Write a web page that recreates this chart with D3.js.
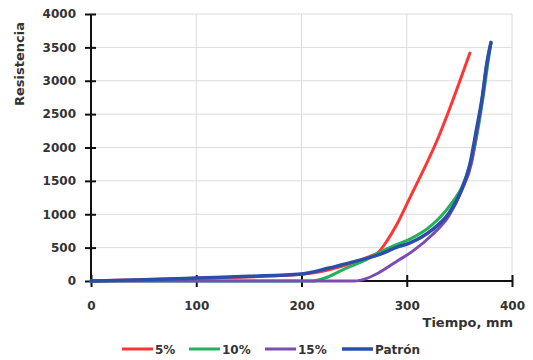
<!DOCTYPE html>
<html>
<head>
<meta charset="utf-8">
<script src="https://cdn.jsdelivr.net/npm/d3@7"></script>
<style>
  body { margin: 0; background: #fff; }
  text { font-family: "DejaVu Sans", sans-serif; font-weight: bold; fill: #333; }
</style>
</head>
<body>
<svg id="chart" width="533" height="360"></svg>
<script>
// valores (tiempo mm, resistencia)
var xTicks = [0, 100, 200, 300, 400];
var yTicks = [0, 500, 1000, 1500, 2000, 2500, 3000, 3500, 4000];
var seriesNames = ["5%", "10%", "15%", "Patrón"];
var seriesColors = ["#ff3535", "#26b05a", "#7b4cb3", "#2b4fa6"];

var rojo = [[0,0],[100,40],[200,100],[250,280],[265,370],[273,430],[282,620],[290,830],[302,1215],[330,2150],[360,3415]];
var verde = [[0,0],[210,0],[225,60],[242,190],[261,315],[273,420],[290,545],[302,620],[324,840],[340,1110],[355,1500],[363,1900],[368,2300],[373,2800],[377,3250],[380,3570]];
var morado = [[0,0],[250,0],[262,40],[273,120],[290,290],[305,440],[324,690],[340,975],[352,1350],[362,1800],[367,2280],[372,2780],[376,3250],[380,3560]];
var patron = [[0,0],[50,20],[100,45],[150,70],[200,105],[225,190],[250,290],[273,390],[292,515],[302,565],[324,765],[340,1015],[352,1365],[360,1750],[366,2250],[372,2780],[376,3250],[380,3575]];
var allSeries = [rojo, verde, morado, patron];

var svg = d3.select("#chart");
var x = d3.scaleLinear().domain([0, 400]).range([91, 512]);
var y = d3.scaleLinear().domain([0, 4000]).range([281, 14]);

// grid
svg.append("g").selectAll("line").data(yTicks.slice(1)).enter().append("line")
    .attr("x1", x(0)).attr("x2", x(400))
    .attr("y1", function(d){ return y(d); }).attr("y2", function(d){ return y(d); })
    .attr("stroke", "#dcdcdc").attr("stroke-width", 1);
svg.append("g").selectAll("line").data(xTicks.slice(1)).enter().append("line")
    .attr("x1", function(d){ return x(d); }).attr("x2", function(d){ return x(d); })
    .attr("y1", y(0)).attr("y2", y(4000))
    .attr("stroke", "#dcdcdc").attr("stroke-width", 1);

// axes
var yAxis = svg.append("g").attr("transform", "translate(" + x(0) + ",0)")
    .call(d3.axisLeft(y).tickValues(yTicks).tickFormat(d3.format("d")).tickSize(6).tickPadding(9));
yAxis.selectAll(".tick line").attr("x1", 5);
var xAxis = svg.append("g").attr("transform", "translate(0," + y(0) + ")")
    .call(d3.axisBottom(x).tickValues(xTicks).tickFormat(d3.format("d")).tickSize(6).tickPadding(14));
xAxis.selectAll(".tick line").attr("y1", -6);
svg.selectAll(".domain").attr("stroke-width", 2).attr("stroke", "#111");
svg.selectAll(".tick line").attr("stroke-width", 2).attr("stroke", "#111");
svg.selectAll(".tick text").style("font-size", "12px").attr("fill", "#333")
    .style("font-family", "DejaVu Sans").style("font-weight", "bold");
yAxis.select(".domain").attr("d", "M0," + y(0) + "V" + y(4000));
xAxis.select(".domain").attr("d", "M" + x(0) + ",0H" + x(400));

// lines
var line = d3.line()
    .x(function(d){ return x(d[0]); })
    .y(function(d){ return y(d[1]); })
    .curve(d3.curveMonotoneX);

svg.append("g").selectAll("path").data(allSeries).enter().append("path")
    .attr("d", line)
    .attr("fill", "none")
    .attr("stroke", function(d, i){ return seriesColors[i]; })
    .attr("stroke-width", function(d, i){ return i == 3 ? 3.5 : 3; })
    .attr("stroke-linecap", "round")
    .attr("stroke-linejoin", "round");

// axis titles
svg.append("text").attr("transform", "translate(24,64)rotate(-90)")
    .attr("text-anchor", "middle").style("font-size", "13px").text("Resistencia");
svg.append("text").attr("x", 513).attr("y", 327)
    .attr("text-anchor", "end").style("font-size", "13px").text("Tiempo, mm");

// legend
var legendX = [122, 189, 265, 342];
var lg = svg.append("g").selectAll("g").data(seriesNames).enter().append("g")
    .attr("transform", function(d, i){ return "translate(" + legendX[i] + ",349)"; });
lg.append("line").attr("x1", 0).attr("x2", 31).attr("y1", 0).attr("y2", 0)
    .attr("stroke", function(d, i){ return seriesColors[i]; })
    .attr("stroke-width", function(d, i){ return i == 3 ? 3.5 : 3; });
lg.append("text").attr("x", 33).attr("y", 5).style("font-size", "12px")
    .text(function(d){ return d; });
</script>
</body>
</html>
